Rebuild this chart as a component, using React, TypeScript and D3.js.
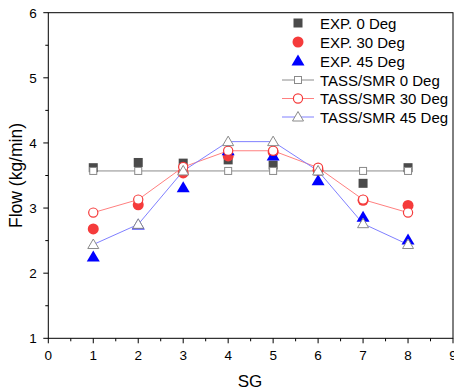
import React from "react";
import * as d3 from "d3";

const sg = [1, 2, 3, 4, 5, 6, 7, 8];
const exp0 = [3.62, 3.7, 3.69, 3.74, 3.66, 3.57, 3.38, 3.62];
const exp30 = [2.68, 3.05, 3.54, 3.8, 3.86, 3.58, 3.12, 3.04];
const exp45 = [2.25, 2.74, 3.31, 3.88, 3.8, 3.42, 2.86, 2.51];
const tass0 = [3.57, 3.57, 3.57, 3.57, 3.57, 3.57, 3.57, 3.57];
const tass30 = [2.93, 3.13, 3.63, 3.88, 3.88, 3.62, 3.13, 2.93];
const tass45 = [2.44, 2.75, 3.57, 4.02, 4.02, 3.57, 2.76, 2.44];
const xTicks = [0, 1, 2, 3, 4, 5, 6, 7, 8, 9];
const yTicks = [1, 2, 3, 4, 5, 6];
const legendLabels = [
  "EXP. 0 Deg",
  "EXP. 30 Deg",
  "EXP. 45 Deg",
  "TASS/SMR 0 Deg",
  "TASS/SMR 30 Deg",
  "TASS/SMR 45 Deg",
];

const L = 48.3, R = 453, T = 12.7, B = 338.3;
const FONT = "'Liberation Sans', Arial, sans-serif";

type Kind = "fsq" | "fci" | "ftr" | "hsq" | "hci" | "htr";

function Marker({ kind, x, y }: { kind: Kind; x: number; y: number }) {
  switch (kind) {
    case "fsq":
      return <rect x={x - 4.5} y={y - 4.5} width={9} height={9} fill="#4a4a4a" />;
    case "fci":
      return <circle cx={x} cy={y} r={5.5} fill="#f53b3b" />;
    case "ftr":
      return (
        <path
          d={`M${x},${y - 6.5}L${x + 6.5},${y + 4.5}L${x - 6.5},${y + 4.5}Z`}
          fill="#0000ff"
        />
      );
    case "hsq":
      return (
        <rect x={x - 3.5} y={y - 3.5} width={7} height={7} fill="#fff" stroke="#8a8a8a" strokeWidth={1} />
      );
    case "hci":
      return <circle cx={x} cy={y} r={4.6} fill="#fff" stroke="#f53b3b" strokeWidth={1.2} />;
    case "htr":
      return (
        <path
          d={`M${x},${y - 5.5}L${x + 5.5},${y + 4}L${x - 5.5},${y + 4}Z`}
          fill="#fff"
          stroke="#8a8a8a"
          strokeWidth={1}
        />
      );
  }
}

export default function App() {
  const x = d3.scaleLinear().domain([0, 9]).range([L, R]);
  const y = d3.scaleLinear().domain([1, 6]).range([B, T]);
  const line = d3
    .line<number>()
    .x((_, i) => x(sg[i]))
    .y((d) => y(d));

  const expSeries: [number[], Kind][] = [
    [exp0, "fsq"],
    [exp30, "fci"],
    [exp45, "ftr"],
  ];
  const tassSeries: [number[], Kind, string][] = [
    [tass0, "hsq", "#8c8c8c"],
    [tass30, "hci", "#ff8080"],
    [tass45, "htr", "#8080ff"],
  ];
  const legendKinds: Kind[] = ["fsq", "fci", "ftr", "hsq", "hci", "htr"];
  const legendLines = [null, null, null, "#8c8c8c", "#ff8080", "#8080ff"];
  const legendY = [23, 42, 61, 80, 98.5, 117];

  const xMinor = d3.range(0.5, 9, 1);
  const yMinor = d3.range(1.5, 6, 1);

  return (
    <svg width={454} height={392} style={{ position: "absolute", left: 0, top: 0 }}>
      <rect width={454} height={392} fill="#fff" />
      <rect x={L} y={T} width={R - L} height={B - T} fill="none" stroke="#000" strokeWidth={1} />
      {yTicks.map((t) => (
        <g key={"y" + t}>
          <line x1={L - 5} x2={L} y1={y(t)} y2={y(t)} stroke="#000" />
          <text x={L - 11.5} y={y(t) + 5} textAnchor="end" fontSize={13.5} fontFamily={FONT}>
            {t}
          </text>
        </g>
      ))}
      {yMinor.map((t) => (
        <line key={"ym" + t} x1={L - 3} x2={L} y1={y(t)} y2={y(t)} stroke="#000" />
      ))}
      {xTicks.map((t) => (
        <g key={"x" + t}>
          <line x1={x(t)} x2={x(t)} y1={B} y2={B + 5} stroke="#000" />
          <text x={x(t)} y={B + 22} textAnchor="middle" fontSize={13.5} fontFamily={FONT}>
            {t}
          </text>
        </g>
      ))}
      {xMinor.map((t) => (
        <line key={"xm" + t} x1={x(t)} x2={x(t)} y1={B} y2={B + 3} stroke="#000" />
      ))}
      <text x={250} y={386.5} textAnchor="middle" fontSize={17} fontFamily={FONT}>
        SG
      </text>
      <text
        transform={`translate(22,${(T + B) / 2}) rotate(-90)`}
        textAnchor="middle"
        fontSize={17.5}
        fontFamily={FONT}
      >
        Flow (kg/min)
      </text>
      {tassSeries.map(([vals, , color], i) => (
        <path key={"l" + i} d={line(vals) || ""} fill="none" stroke={color} strokeWidth={1} />
      ))}
      {expSeries.map(([vals, kind], i) => (
        <g key={"e" + i}>
          {vals.map((v, j) => (
            <Marker key={j} kind={kind} x={x(sg[j])} y={y(v)} />
          ))}
        </g>
      ))}
      {tassSeries.map(([vals, kind], i) => (
        <g key={"t" + i}>
          {vals.map((v, j) => (
            <Marker key={j} kind={kind} x={x(sg[j])} y={y(v)} />
          ))}
        </g>
      ))}
      {legendLabels.map((lab, i) => (
        <g key={"lg" + i}>
          {legendLines[i] && (
            <line x1={282} x2={314} y1={legendY[i]} y2={legendY[i]} stroke={legendLines[i] as string} strokeWidth={1} />
          )}
          <Marker kind={legendKinds[i]} x={298} y={legendY[i]} />
          <text x={320} y={legendY[i] + 5.5} fontSize={15} fontFamily={FONT}>
            {lab}
          </text>
        </g>
      ))}
    </svg>
  );
}
